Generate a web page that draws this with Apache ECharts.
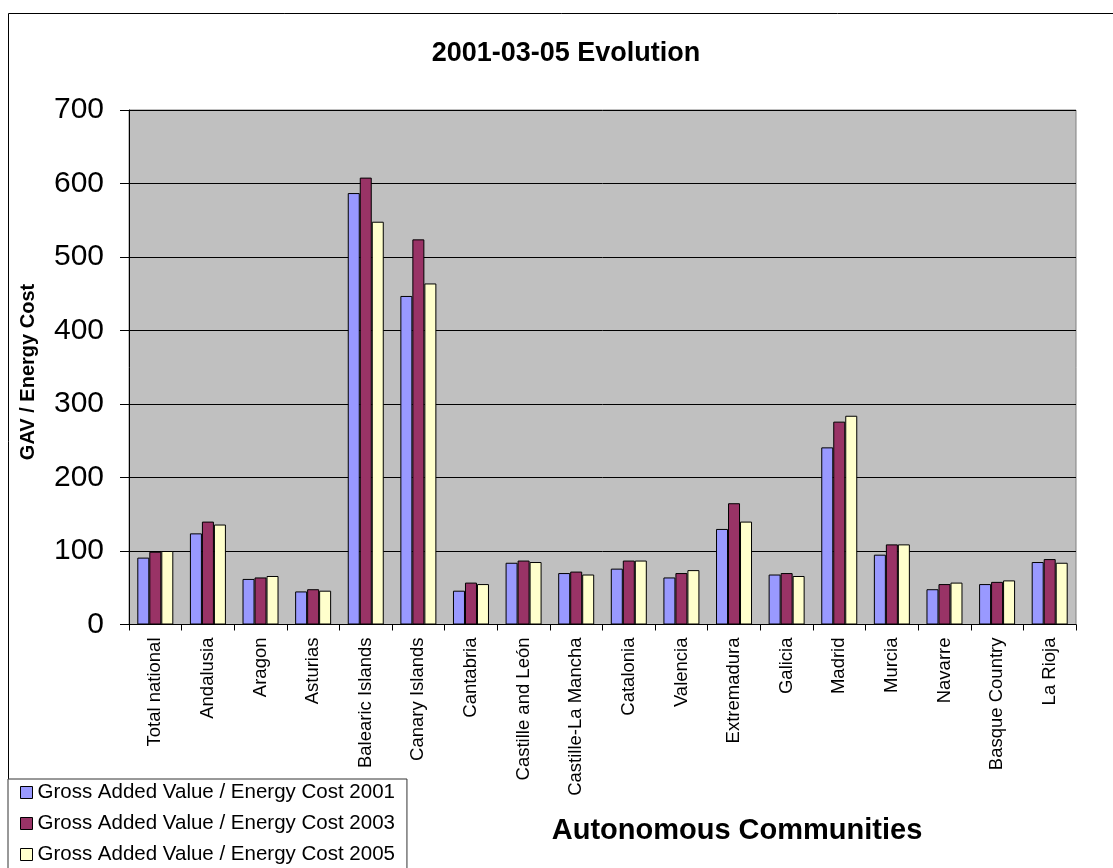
<!DOCTYPE html>
<html>
<head>
<meta charset="utf-8">
<script src="https://cdn.jsdelivr.net/npm/echarts@6/dist/echarts.min.js"></script>
<style>
html,body{margin:0;padding:0;background:#fff;}
#chart{width:1113px;height:868px;}
</style>
</head>
<body>
<div id="chart"></div>
<script>
var categories = ["Total national","Andalusia","Aragon","Asturias","Balearic Islands","Canary Islands","Cantabria","Castille and León","Castille-La Mancha","Catalonia","Valencia","Extremadura","Galicia","Madrid","Murcia","Navarre","Basque Country","La Rioja"];
var gav2001 = [91, 124, 62, 45, 587, 447, 46, 84, 70, 76, 64, 130, 68, 241, 95, 48, 55, 85];
var gav2003 = [99, 140, 64, 48, 608, 524, 57, 87, 72, 87, 70, 165, 70, 276, 109, 55, 58, 89];
var gav2005 = [100, 136, 66, 46, 548, 464, 55, 85, 68, 87, 74, 140, 66, 284, 109, 57, 60, 84];
var seriesNames = ["Gross Added Value / Energy Cost 2001","Gross Added Value / Energy Cost 2003","Gross Added Value / Energy Cost 2005"];
var yTicks = [0,100,200,300,400,500,600,700];

var FONT = "'Liberation Sans', Arial, sans-serif";
var chart = echarts.init(document.getElementById('chart'), null, {renderer:'canvas'});
function bar(name, data, color){
  return {
    name: name, type: 'bar', data: data, barWidth: 12, barGap: '0%',
    itemStyle: {color: color, borderColor: '#000', borderWidth: 1},
    emphasis: {disabled: true}
  };
}
chart.setOption({
  animation: false,
  backgroundColor: '#fff',
  textStyle: {fontFamily: FONT},
  graphic: [
    {type:'rect', z:-10, shape:{x:8.5, y:13.5, width:1200, height:1000}, style:{fill:'none', stroke:'#000', lineWidth:1}},
    {type:'text', x:566, y:54, style:{text:'2001-03-05 Evolution', font:'bold 27px ' + FONT, fill:'#000', textAlign:'center', textVerticalAlign:'middle'}},
    {type:'text', x:28, y:372, rotation:Math.PI/2, style:{text:'GAV / Energy Cost', font:'bold 20px ' + FONT, fill:'#000', textAlign:'center', textVerticalAlign:'middle'}},
    {type:'text', x:737, y:831, style:{text:'Autonomous Communities', font:'bold 29px ' + FONT, fill:'#000', textAlign:'center', textVerticalAlign:'middle'}}
  ],
  legend: {
    orient: 'vertical', left: 8, bottom: -5,
    padding: [3, 12, 8, 12],
    backgroundColor: '#fff', borderColor: '#333', borderWidth: 1,
    itemWidth: 12, itemHeight: 12, itemGap: 10, itemTextGap: 16,
    icon: 'rect',
    itemStyle: {borderColor: '#000', borderWidth: 1},
    textStyle: {fontSize: 20.5, lineHeight: 20, color: '#000', fontFamily: FONT},
    data: seriesNames
  },
  grid: {left: 129, right: 37, top: 110, bottom: 243.5, show: true, backgroundColor: '#C0C0C0', borderColor: '#808080', borderWidth: 1},
  xAxis: {
    type: 'category', data: categories,
    axisLine: {lineStyle: {color: '#000', width: 1}},
    axisTick: {show: true, interval: 0, length: 6, lineStyle: {color: '#000'}},
    axisLabel: {interval: 0, rotate: 90, margin: 13, fontSize: 18.5, color: '#000', fontFamily: FONT}
  },
  yAxis: {
    type: 'value', min: yTicks[0], max: yTicks[yTicks.length-1], interval: 100,
    axisLine: {show: true, lineStyle: {color: '#000', width: 1}},
    axisTick: {show: true, length: 9, lineStyle: {color: '#000'}},
    axisLabel: {fontSize: 30, color: '#000', margin: 25, fontFamily: FONT},
    splitLine: {show: true, lineStyle: {color: '#000', width: 1}}
  },
  series: [
    bar(seriesNames[0], gav2001, '#9999FF'),
    bar(seriesNames[1], gav2003, '#993366'),
    bar(seriesNames[2], gav2005, '#FFFFCC')
  ]
});
</script>
</body>
</html>
